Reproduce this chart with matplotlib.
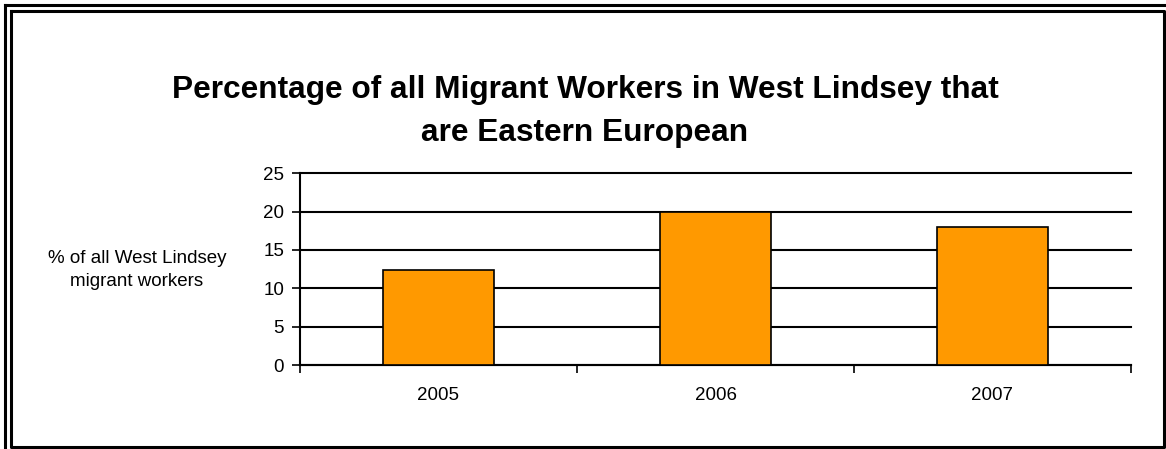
import matplotlib.pyplot as plt
import numpy as np
from matplotlib.lines import Line2D

years = ["2005", "2006", "2007"]
pct_eastern_european = [12.4, 20.0, 18.0]
y_ticks = [0, 5, 10, 15, 20, 25]

plt.rcParams['font.family'] = ['Liberation Sans', 'DejaVu Sans']

W, H = 1166, 449
fig = plt.figure(figsize=(W / 100, H / 100), dpi=100)

# double frame round the chart (px coords)
def frame(x0, y0, x1, y1, lw):
    xs = [x0 / W, x1 / W, x1 / W, x0 / W, x0 / W]
    ys = [1 - y0 / H, 1 - y0 / H, 1 - y1 / H, 1 - y1 / H, 1 - y0 / H]
    fig.add_artist(Line2D(xs, ys, color='black', lw=lw, transform=fig.transFigure))

frame(4.5, 4.5, 1180, 470, 2.2)
frame(10.5, 10.5, 1163.5, 447, 2.2)

ax = fig.add_axes([300 / W, 1 - 365 / H, 831 / W, 191.7 / H])
x = np.arange(len(years))
ax.bar(x, pct_eastern_european, width=0.4, color='#FF9900', edgecolor='black',
       linewidth=1.2, zorder=3)

ax.set_xlim(-0.5, len(years) - 0.5)
ax.set_ylim(0, 25)
ax.set_yticks(y_ticks)
ax.yaxis.grid(True, color='black', linewidth=1.5, zorder=0)
for gl in ax.get_ygridlines():
    gl.set_clip_on(False)
ax.set_axisbelow(True)

# category boundaries as ticks, labels in the middle
ax.set_xticks(np.arange(len(years) + 1) - 0.5)
ax.set_xticklabels([])
ax.set_xticks(x, minor=True)
ax.set_xticklabels(years, minor=True, fontsize=13.5)
ax.tick_params(axis='x', which='major', direction='out', length=5.5, width=1.2)
ax.tick_params(axis='x', which='minor', length=0, pad=16)
ax.tick_params(axis='y', direction='out', length=5.5, width=1.2, labelsize=13.5, pad=6)

for s in ['top', 'right']:
    ax.spines[s].set_visible(False)
for s in ['left', 'bottom']:
    ax.spines[s].set_linewidth(1.5)

fig.text(137 / W, 1 - 270 / H, "% of all West Lindsey\nmigrant workers",
         ha='center', va='center', fontsize=13.5, linespacing=1.4)

fig.text(585 / W, 1 - 111.5 / H,
         "Percentage of all Migrant Workers in West Lindsey that\nare Eastern European",
         ha='center', va='center', fontsize=22.8, fontweight='bold', linespacing=1.55)

fig.savefig('out.png', dpi=100, facecolor='white')
